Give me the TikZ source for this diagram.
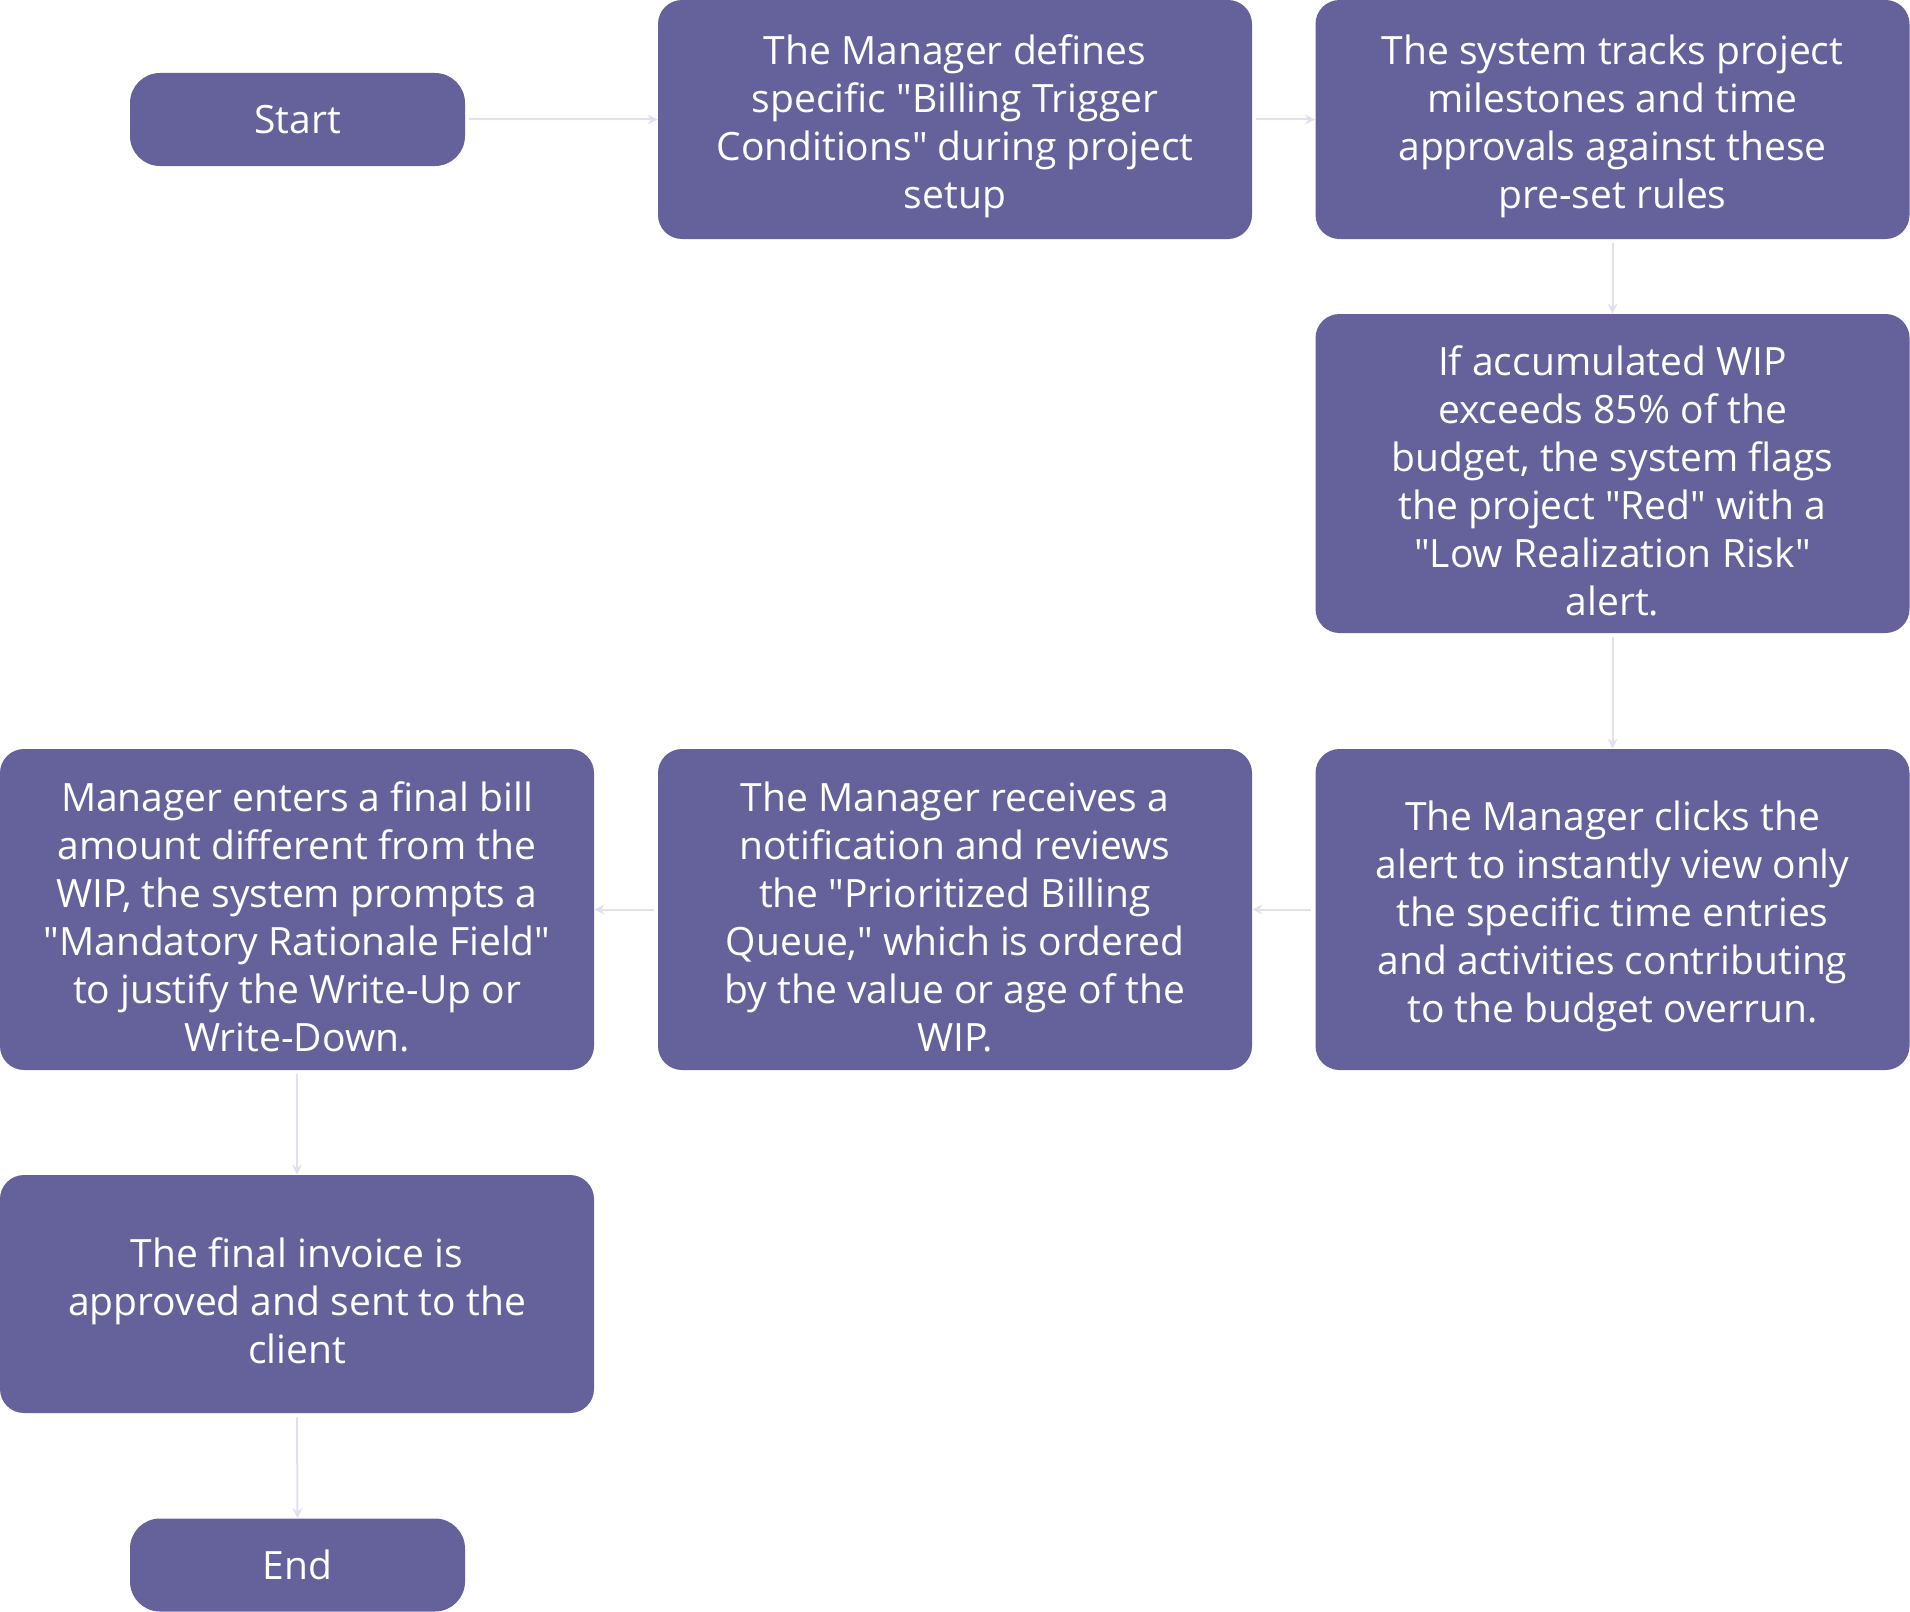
\documentclass[tikz,border=0pt]{standalone}
\usepackage{fontspec}
\setmainfont{Open Sans}[Ligatures=TeXOff]
\usetikzlibrary{arrows.meta}
\definecolor{boxfill}{RGB}{101,97,155}
\definecolor{linkcol}{RGB}{226,223,239}
\newcommand{\toprule}{\rule{0pt}{22pt}}

\begin{document}
\begin{tikzpicture}[x=0.5pt,y=-0.5pt,
  box/.style={fill=boxfill,text=white,rounded corners=12pt,align=center,inner sep=0pt,minimum width=297pt,font=\fontsize{19.5}{24}\selectfont},
  term/.style={box,minimum width=167.5pt,minimum height=46.5pt,rounded corners=15pt},
  link/.style={-{Stealth[length=5pt,width=5pt]},linkcol,line width=1pt,shorten <=2pt}]
  \useasboundingbox (0,0) rectangle (1910,1611);

  % top row
  \node[term] (start) at (297.5,119.5) {Start};
  \node[box,minimum height=119.5pt] (define) at (955,119.5) {\toprule The Manager defines\\specific "Billing Trigger\\Conditions" during project\\setup};
  \node[box,minimum height=119.5pt] (track) at (1612.5,119.5) {\toprule The system tracks project\\milestones and time\\approvals against these\\pre-set rules};

  % right column
  \node[box,minimum height=159.5pt] (flag) at (1612.5,473.5) {\toprule If accumulated WIP\\exceeds 85\% of the\\budget, the system flags\\the project "Red" with a\\"Low Realization Risk"\\alert.};
  \node[box,minimum height=160.5pt] (click) at (1612.5,909.5) {\toprule The Manager clicks the\\alert to instantly view only\\the specific time entries\\and activities contributing\\to the budget overrun.};

  % middle row, right to left
  \node[box,minimum height=160.5pt] (review) at (955,909.5) {\toprule The Manager receives a\\notification and reviews\\the "Prioritized Billing\\Queue," which is ordered\\by the value or age of the\\WIP.};
  \node[box,minimum height=160.5pt] (enter) at (297,909.5) {\toprule Manager enters a final bill\\amount different from the\\WIP, the system prompts a\\"Mandatory Rationale Field"\\to justify the Write-Up or\\Write-Down.};

  % bottom
  \node[box,minimum height=119pt] (send) at (297,1294) {\toprule The final invoice is\\approved and sent to the\\client};
  \node[term] (end) at (297.5,1565) {End};

  \draw[link] (start.east) -- (define.west);
  \draw[link] (define.east) -- (track.west);
  \draw[link] (track.south) -- (flag.north);
  \draw[link] (flag.south) -- (click.north);
  \draw[link] (click.west) -- (review.east);
  \draw[link] (review.west) -- (enter.east);
  \draw[link] (enter.south) -- (send.north);
  \draw[link] (send.south) -- (end.north);
\end{tikzpicture}
\end{document}
